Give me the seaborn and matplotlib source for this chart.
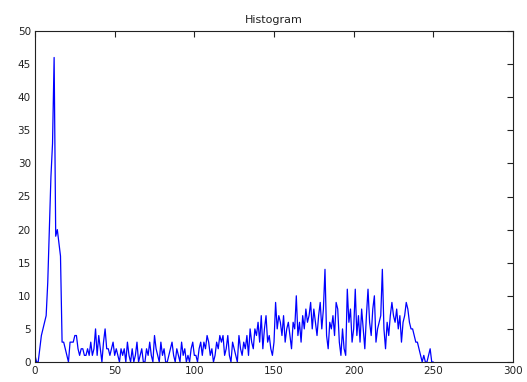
import numpy as np
import pandas as pd
import matplotlib
matplotlib.use("Agg")
import matplotlib.pyplot as plt
import seaborn as sns

# Histogram counts per grey level
counts_peak = [1, 0, 0, 2, 4, 5, 6, 7, 12, 20, 28, 33, 46, 19, 20, 18, 16, 3, 3, 2,
               1, 0, 3, 3, 3, 4, 4, 2]
counts_low = [1, 2, 2, 1, 1, 2, 1, 3, 1, 2, 5, 1, 4, 2, 0, 3, 5, 2, 2, 1, 2, 3, 1, 2,
              1, 0, 2, 1, 2, 0, 3, 1, 0,
              2, 0, 1, 3, 0, 1, 2, 0, 0, 2, 1, 3, 1, 0, 4, 2, 1, 0, 3, 1, 2, 0, 0,
              1, 2, 3, 1, 0, 2, 1, 0, 3, 1, 2, 0, 1, 0, 2, 3, 1,
              1, 0, 2, 3, 1, 3, 2, 4, 3, 1, 2, 0, 1, 3, 2, 4, 3, 4, 1, 2, 4, 1, 0,
              3, 2, 1, 0, 4, 2, 1]
counts_rise = [3, 2, 4, 1, 5, 3, 2, 5, 4, 6, 3, 7, 2, 5, 7, 3, 4, 2, 1, 3,
               9, 5, 7, 6, 4, 7, 3, 5, 6, 4, 2, 6, 5, 10, 4, 6, 3, 7, 5, 8]
counts_high = [6, 7, 9, 5, 8, 6, 4, 7, 9, 5, 8, 14, 4, 2, 6, 5, 7, 4, 9, 8,
               3, 1, 5, 2, 1, 11, 6, 8, 3, 5,
               11, 4, 7, 3, 8, 5, 2, 7, 11, 6, 4, 8, 10, 3, 5, 6, 7, 14, 5, 2]
counts_tail = [6, 4, 7, 9, 7, 6, 8, 5, 7, 3, 6, 7, 9, 8, 6, 5, 5, 4, 3, 3,
               2, 1, 0, 1, 0, 0, 1, 2, 0, 0]

x_ticks = [0, 50, 100, 150, 200, 250, 300]
y_ticks = [0, 5, 10, 15, 20, 25, 30, 35, 40, 45, 50]
title = "Histogram"

counts = counts_peak + counts_low + counts_rise + counts_high + counts_tail
df = pd.DataFrame({"level": np.arange(len(counts)), "count": counts})

sns.set_theme(style="white")
plt.rcParams['font.family'] = ['DejaVu Sans']

fig = plt.figure(figsize=(5.27, 3.82), dpi=100)
ax = fig.add_axes([35 / 527, 20 / 382, 478 / 527, 331 / 382])
sns.lineplot(data=df, x="level", y="count", ax=ax, color="#0000ff", linewidth=0.9)

ax.set_xlim(0, 300)
ax.set_ylim(0, 50)
ax.set_xticks(x_ticks)
ax.set_yticks(y_ticks)
ax.set_xlabel("")
ax.set_ylabel("")
ax.set_title(title, fontsize=8, color="#222222", pad=6)
ax.tick_params(direction="in", length=4, width=0.8, colors="#222222",
               labelsize=7.5, top=True, right=True, pad=3)
for s in ax.spines.values():
    s.set_visible(True)
    s.set_color("#222222")
    s.set_linewidth(0.8)

fig.savefig("out.png", dpi=100)
